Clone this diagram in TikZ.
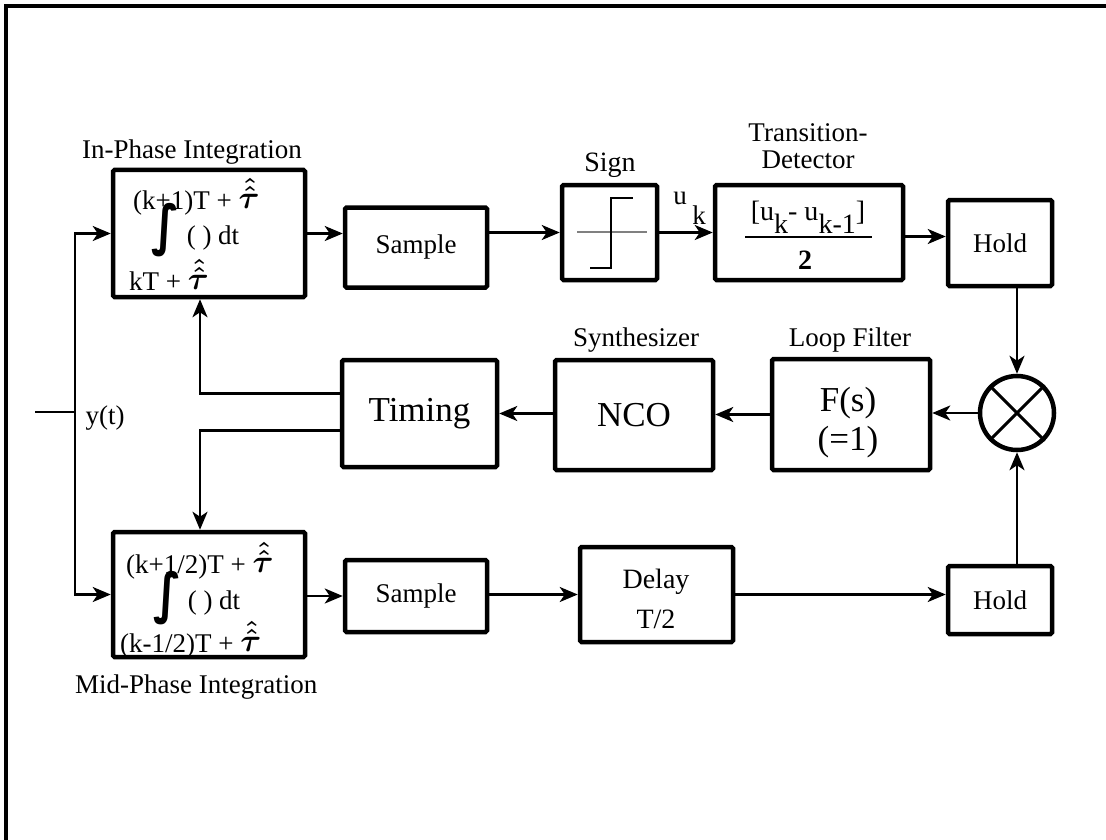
\RequirePackage{fix-cm}
\documentclass[tikz,border=0pt]{standalone}
\usepackage{amsmath}
\usepackage{graphicx}
\usepackage{fontspec}
\setmainfont{Liberation Serif}
\newfontfamily\dvs{DejaVu Sans}
\usetikzlibrary{arrows.meta,calc}
\newcommand\myTau{\raisebox{0.05em}{\fontsize{32}{32}\selectfont$\boldsymbol{\hat{\hat{\tau}}}$}}
\newcommand\myInt{\scalebox{1.1}[1.3]{\dvs\bfseries\fontsize{42}{42}\selectfont ∫}}
\begin{document}
\begin{tikzpicture}[x=1pt,y=-1pt,
 blk/.style={draw,line width=4.5pt,inner sep=0pt,rounded corners=1.5pt},
 arr/.style={line width=2.6pt,-{Stealth[length=18pt,width=15pt,inset=5pt]}},
 ln/.style={line width=2.6pt},
 lbl/.style={font=\fontsize{27}{29}\selectfont,inner sep=0pt},
 mid/.style={font=\fontsize{28}{31}\selectfont,inner sep=0pt,align=center},
 big/.style={font=\fontsize{35}{40}\selectfont,inner sep=0pt,align=center},
]
\useasboundingbox (0,0) rectangle (1106,840);
\draw[line width=4pt] (6,840) -- (6,6) -- (1106,6);

% blocks
\node[blk,minimum width=192,minimum height=127] (int1) at (209,233.5) {};
\node[blk,minimum width=142,minimum height=80,lbl] (samp1) at (416,247.5) {Sample};
\node[blk,minimum width=95,minimum height=95] (sign) at (609.5,232.5) {};
\node[blk,minimum width=188,minimum height=95] (td) at (809,232.5) {};
\node[blk,minimum width=104,minimum height=86,lbl] (hold1) at (1000,243) {Hold};
\node[draw,circle,line width=4.5pt,minimum size=74,inner sep=0pt] (mult) at (1017,413) {};
\node[blk,minimum width=158,minimum height=111] (lf) at (851,414.5) {};
\node[blk,minimum width=158,minimum height=110,big] (nco) at (634,415) {NCO};
\node[blk,minimum width=155,minimum height=107,big] (tim) at (419.5,413.5) {Timing};
\node[blk,minimum width=192,minimum height=125] (int2) at (209,594.5) {};
\node[blk,minimum width=142,minimum height=72,lbl] (samp2) at (416,596) {Sample};
\node[blk,minimum width=153,minimum height=95] (delay) at (656.5,594.5) {};
\node[blk,minimum width=104,minimum height=68,lbl] (hold2) at (1000,600) {Hold};

% multiplier cross
\draw[line width=3pt] (mult.45) -- (mult.225) (mult.135) -- (mult.315);

% texts in blocks
\node[lbl,anchor=west] (i1a) at (133,197) {(k+1)T + \myTau};
\node[inner sep=0pt] (i1s) at (166,230) {\myInt};
\node[lbl] (i1d) at (213,238) {( ) dt};
\node[lbl,anchor=west] (i1b) at (129,275) {kT + \myTau};

\node[lbl,anchor=west] (i2a) at (126,561) {(k+1/2)T + \myTau};
\node[inner sep=0pt] (i2s) at (168,598) {\myInt};
\node[lbl] (i2d) at (214,603) {( ) dt};
\node[lbl,anchor=west] (i2b) at (120,640) {(k-1/2)T + \myTau};

\node[mid] (tdn) at (808,217) {[u\raisebox{-0.45em}{k}- u\raisebox{-0.45em}{k-1}]};
\draw[line width=1.5pt] (745,237) -- (872,237);
\node[mid,font=\fontsize{28}{31}\selectfont\bfseries] (tdd) at (805,260) {2};

\draw[gray,line width=1.2pt] (577,232) -- (647,232);
\draw[line width=2pt] (590,268) -- (611,268) -- (611,198) -- (633,198);

\node[big] (fs) at (848,403) {F(s)};
\node[big] (fs1) at (848,442) {(=1)};
\node[mid] (dl) at (656,582) {Delay};
\node[mid] (dl2) at (656,619) {T/2};

% labels
\node[lbl,anchor=west] (l1) at (82,152) {In-Phase Integration};
\node[lbl,anchor=west] (l2) at (75,687) {Mid-Phase Integration};
\node[mid] (l3) at (610,165) {Sign};
\node[lbl] (l4) at (808,133) {Transition-};
\node[lbl] (l5) at (808,160) {Detector};
\node[lbl] (l6) at (636,340) {Synthesizer};
\node[lbl] (l7) at (850,340) {Loop Filter};
\node[lbl] (uk1) at (680,198) {u};
\node[lbl] (uk2) at (699,215) {k};
\node[lbl] (yt) at (105,418) {y(t)};

% connectors
\coordinate (in) at (35,412);
\coordinate (jn) at (75,412);
\draw[ln] (in) -- (jn);
\draw[arr] (jn) |- (int1.west);
\draw[arr] (jn) |- (int2.west);
\draw[arr] (int1.east) -- (int1.east -| samp1.west);
\draw[arr] (samp1.east |- sign.west) -- (sign.west);
\draw[arr] (sign.east) -- (td.west);
\draw[arr] ([yshift=-4pt]td.east) -- ([yshift=-4pt]td.east -| hold1.west);
\draw[arr] (hold1.south -| mult.north) -- (mult.north);
\draw[arr] (hold2.north -| mult.south) -- (mult.south);
\draw[arr] (mult.west) -- (mult.west -| lf.east);
\draw[arr] (lf.west) -- (lf.west -| nco.east);
\draw[arr] (nco.west |- tim.east) -- (tim.east);
\draw[arr] ([yshift=20pt]tim.west) -| ([xshift=-9pt]int1.south);
\draw[arr] ([yshift=-17pt]tim.west) -| ([xshift=-9pt]int2.north);
\draw[arr] (int2.east |- samp2.west) -- (samp2.west);
\draw[arr] (samp2.east |- delay.west) -- (delay.west);
\draw[arr] (delay.east) -- (delay.east -| hold2.west);
\end{tikzpicture}
\end{document}
